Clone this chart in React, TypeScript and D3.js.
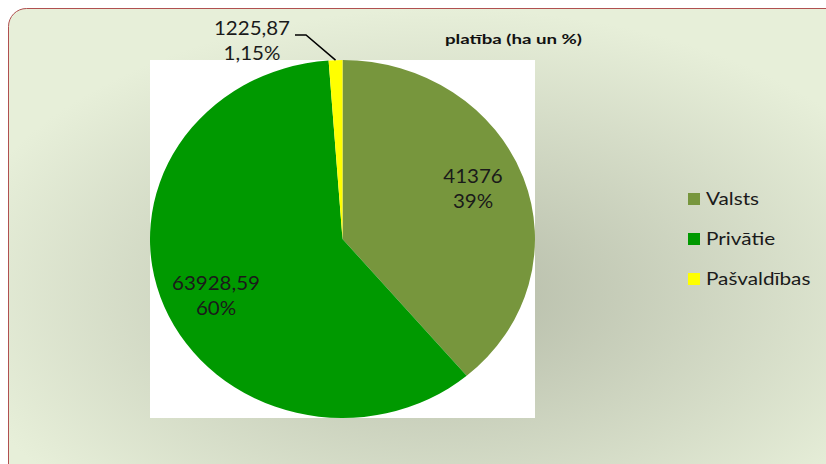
import { useEffect, useRef } from "react"
import * as d3 from "d3"

const categories = ["Valsts", "Privātie", "Pašvaldības"]
const values = [41376, 63928.59, 1225.87]
const valueLabels = ["41376", "63928,59", "1225,87"]
const percentLabels = ["39%", "60%", "1,15%"]
const colors = ["#77963d", "#009900", "#ffff00"]
const title = "platība (ha un %)"

const W = 826
const H = 464

const App = () => {
  const svgRef = useRef<SVGSVGElement>(null)

  useEffect(() => {
    const svg = d3.select(svgRef.current)
    svg.selectAll("*").remove()

    const defs = svg.append("defs")
    const grad = defs
      .append("radialGradient")
      .attr("id", "bg")
      .attr("cx", "0.52")
      .attr("cy", "0.6")
      .attr("r", "0.6")
    grad.append("stop").attr("offset", "0%").attr("stop-color", "#b5bba8")
    grad.append("stop").attr("offset", "100%").attr("stop-color", "#e7efd9")

    svg
      .append("rect")
      .attr("x", 8.5)
      .attr("y", 8.5)
      .attr("width", 840)
      .attr("height", 480)
      .attr("rx", 18)
      .attr("fill", "url(#bg)")
      .attr("stroke", "#b05050")
      .attr("stroke-width", 1)

    // white plot area
    svg
      .append("rect")
      .attr("x", 150)
      .attr("y", 60)
      .attr("width", 385)
      .attr("height", 358)
      .attr("fill", "#ffffff")

    const cx = 342.5
    const cy = 239
    const r = 179
    const sx = 192.5 / 179

    const pie = d3.pie<number>().sort(null)
    const arcs = pie(values)
    const arc = d3.arc<d3.PieArcDatum<number>>().innerRadius(0).outerRadius(r)

    const g = svg
      .append("g")
      .attr("transform", `translate(${cx},${cy}) scale(${sx},1)`)

    g.selectAll("path")
      .data(arcs)
      .enter()
      .append("path")
      .attr("d", arc)
      .attr("fill", (d, i) => colors[i])

    const font = "Lato, 'Open Sans', sans-serif"
    const labelPos = [
      [473, 183],
      [216, 290],
      [252, 35],
    ]

    labelPos.forEach(([x, y], i) => {
      const t = svg
        .append("text")
        .attr("transform", `translate(${x},${y}) scale(1.08,1)`)
        .attr("text-anchor", "middle")
        .attr("font-family", font)
        .attr("font-size", 19)
        .attr("fill", "#1a1a1a")
      t.append("tspan").attr("x", 0).text(valueLabels[i])
      t.append("tspan").attr("x", 0).attr("dy", 25).text(percentLabels[i])
    })

    // leader line for small slice
    const mid = arcs[2]
    const a = (mid.startAngle + mid.endAngle) / 2
    const ex = cx + Math.sin(a) * r * sx
    const ey = cy - Math.cos(a) * r
    svg
      .append("path")
      .attr("d", `M295,35 L306,35 L${ex},${ey}`)
      .attr("fill", "none")
      .attr("stroke", "#000")
      .attr("stroke-width", 1.5)

    svg
      .append("text")
      .attr("x", 445)
      .attr("y", 44)
      .attr("font-family", font)
      .attr("font-size", 14)
      .attr("font-weight", "bold")
      .attr("fill", "#111")
      .attr("textLength", 137)
      .attr("lengthAdjust", "spacingAndGlyphs")
      .text(title)

    const legend = svg
      .append("g")
      .selectAll("g")
      .data(categories)
      .enter()
      .append("g")
      .attr("transform", (d, i) => `translate(688,${199 + i * 40})`)

    legend
      .append("rect")
      .attr("x", 0)
      .attr("y", -6)
      .attr("width", 12)
      .attr("height", 12)
      .attr("fill", (d, i) => colors[i])

    legend
      .append("text")
      .attr("transform", "translate(18,6) scale(1.22,1)")
      .attr("font-family", font)
      .attr("font-size", 17)
      .attr("fill", "#1a1a1a")
      .text((d) => d)
  }, [])

  return (
    <svg
      ref={svgRef}
      width={W}
      height={H}
      style={{ position: "absolute", left: 0, top: 0 }}
    ></svg>
  )
}

export default App
